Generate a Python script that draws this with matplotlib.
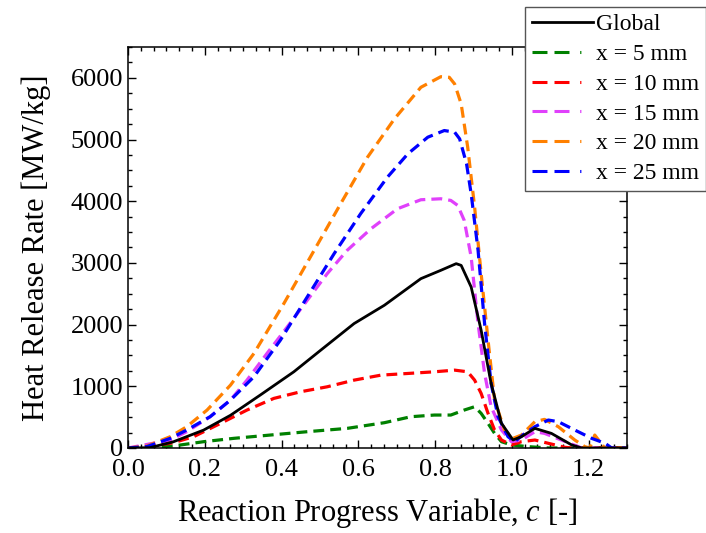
import numpy as np
import matplotlib.pyplot as plt
from matplotlib.lines import Line2D
from matplotlib.ticker import MultipleLocator

plt.rcParams['font.family'] = ['Liberation Serif', 'DejaVu Serif']
plt.rcParams['mathtext.fontset'] = 'custom'
plt.rcParams['mathtext.it'] = 'Liberation Serif:italic'
plt.rcParams['mathtext.rm'] = 'Liberation Serif'

# values
glob_c = [0.0, 0.057, 0.118, 0.197, 0.267, 0.345, 0.432, 0.502, 0.589, 0.668, 0.763, 0.815,
          0.855, 0.868, 0.894, 0.920, 0.946, 0.973, 1.003, 1.025, 1.060, 1.103, 1.156, 1.182, 1.30]
glob_q = [0, 5, 100, 290, 530, 860, 1235, 1585, 2017, 2314, 2745, 2880,
          2988, 2960, 2610, 1909, 1046, 400, 130, 183, 318, 237, 49, 0, 0]

x5_c = [0.0, 0.066, 0.118, 0.197, 0.275, 0.371, 0.467, 0.571, 0.668, 0.737, 0.798, 0.841,
        0.876, 0.903, 0.920, 0.938, 0.955, 0.973, 0.999, 1.042, 1.095, 1.30]
x5_q = [0, 11, 32, 102, 156, 210, 264, 318, 410, 507, 534, 534,
        615, 669, 561, 399, 237, 102, 49, 22, 0, 0]

x10_c = [0.0, 0.066, 0.118, 0.171, 0.241, 0.310, 0.380, 0.450, 0.519, 0.589, 0.659, 0.729,
         0.798, 0.851, 0.885, 0.903, 0.920, 0.938, 0.955, 0.973, 0.999, 1.025, 1.060, 1.095,
         1.138, 1.156, 1.30]
x10_q = [0, 32, 86, 183, 399, 615, 804, 912, 992, 1100, 1181, 1208,
         1235, 1262, 1235, 1100, 885, 561, 291, 129, 49, 102, 129, 76,
         11, 0, 0]

x15_c = [0.0, 0.110, 0.153, 0.214, 0.267, 0.310, 0.362, 0.415, 0.467, 0.519, 0.571, 0.633,
         0.702, 0.763, 0.815, 0.841, 0.859, 0.876, 0.894, 0.912, 0.929, 0.946, 0.973, 0.999,
         1.025, 1.060, 1.085, 1.129, 1.173, 1.182, 1.30]
x15_q = [0, 129, 264, 507, 777, 1100, 1532, 1963, 2395, 2826, 3204, 3554,
         3878, 4024, 4040, 4013, 3932, 3689, 3096, 2017, 1208, 669, 291, 102,
         129, 264, 237, 129, 22, 0, 0]

x20_c = [0.0, 0.049, 0.110, 0.153, 0.206, 0.267, 0.328, 0.406, 0.485, 0.554, 0.624, 0.694,
         0.763, 0.815, 0.837, 0.851, 0.868, 0.885, 0.903, 0.920, 0.938, 0.955, 0.981, 1.003,
         1.025, 1.060, 1.085, 1.121, 1.164, 1.190, 1.203, 1.216, 1.242, 1.30]
x20_q = [0, 32, 183, 345, 615, 1019, 1532, 2341, 3204, 3959, 4714, 5334,
         5847, 6019, 6009, 5901, 5577, 4876, 3905, 2826, 1748, 777, 291, 156,
         210, 426, 464, 345, 129, 22, 0, 210, 0, 0]

x25_c = [0.0, 0.049, 0.110, 0.153, 0.214, 0.267, 0.328, 0.397, 0.467, 0.537, 0.606, 0.676,
         0.729, 0.781, 0.824, 0.851, 0.864, 0.882, 0.894, 0.912, 0.929, 0.946, 0.964, 0.990,
         1.007, 1.034, 1.060, 1.095, 1.121, 1.164, 1.208, 1.243, 1.260, 1.30]
x25_q = [0, 22, 156, 291, 507, 777, 1154, 1748, 2449, 3150, 3797, 4391,
         4768, 5038, 5146, 5119, 5011, 4606, 4121, 3204, 2017, 1046, 507, 183,
         102, 237, 345, 453, 426, 291, 156, 76, 0, 0]

series = [
    ('x = 5 mm', x5_c, x5_q, '#008000'),
    ('x = 10 mm', x10_c, x10_q, '#ff0000'),
    ('x = 15 mm', x15_c, x15_q, '#e040fb'),
    ('x = 20 mm', x20_c, x20_q, '#ff8000'),
    ('x = 25 mm', x25_c, x25_q, '#0000ff'),
]

fig = plt.figure(figsize=(7.06, 5.33), dpi=100)
ax = fig.add_axes([0.1813, 0.1595, 0.7068, 0.7523])

handles = [Line2D([], [], color='black', lw=2.0, label='Global')]
for lab, c, q, col in series:
    ax.plot(c, q, color=col, lw=2.3, dashes=(3.4, 1.9))
    # legend sample drawn like the original: two long dashes and a dot
    handles.append(Line2D([], [], color=col, lw=2.2, dashes=(4.9, 2.3, 4.9, 3.5, 0.4, 5), label=lab))
ax.plot(glob_c, glob_q, color='black', lw=2.0)

ax.set_xlim(0, 1.3)
ax.set_ylim(0, 6500)
ax.xaxis.set_major_locator(MultipleLocator(0.2))
ax.xaxis.set_minor_locator(MultipleLocator(0.2 / 6))
ax.yaxis.set_major_locator(MultipleLocator(1000))
ax.yaxis.set_minor_locator(MultipleLocator(250))
ax.xaxis.set_major_formatter(plt.FuncFormatter(lambda v, p: f'{v:.1f}'))
ax.tick_params(which='both', direction='in', top=True, right=True, labelsize=19, width=1.0)
ax.tick_params(which='major', length=6)
ax.tick_params(which='minor', length=3)
ax.tick_params(axis='x', pad=8)
for sp in ax.spines.values():
    sp.set_linewidth(1.1)

ax.set_xlabel('Reaction Progress Variable, $c$ [-]', fontsize=22, labelpad=11)
ax.set_ylabel('Heat Release Rate [MW/kg]', fontsize=22, labelpad=14)

leg = fig.legend(handles=handles, loc='upper right', bbox_to_anchor=(1.003, 0.992),
                 fontsize=17, frameon=True, fancybox=False, handlelength=2.6,
                 handletextpad=0.1, labelspacing=0.35, borderpad=0.3, borderaxespad=0.1)
leg.get_frame().set_edgecolor('#555555')
leg.get_frame().set_linewidth(1.0)
leg.get_frame().set_alpha(1.0)

fig.savefig('out.png', dpi=100)
